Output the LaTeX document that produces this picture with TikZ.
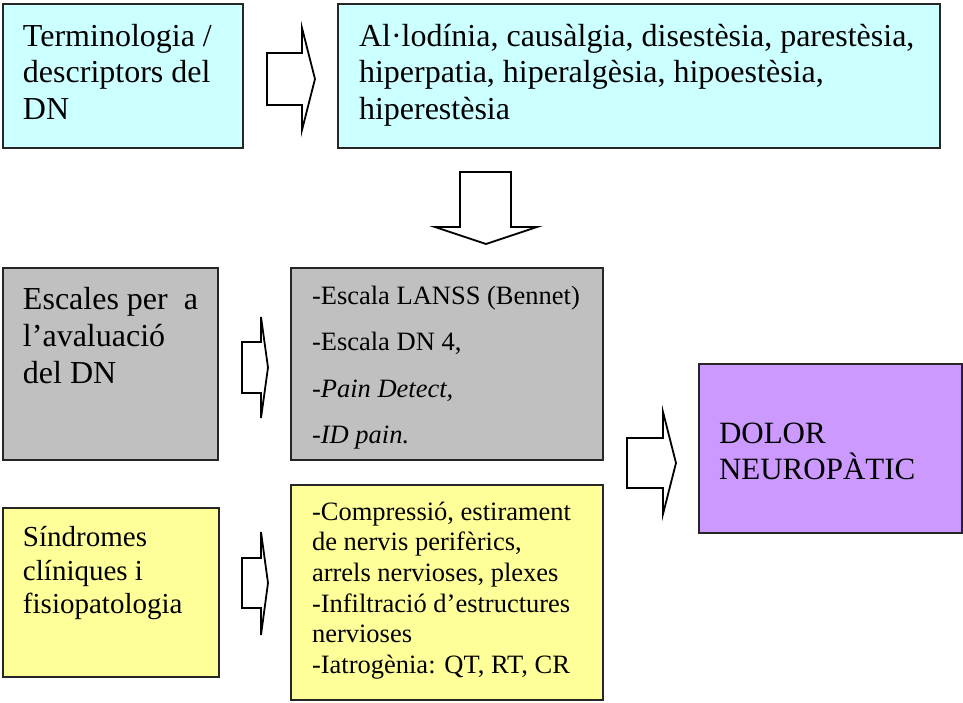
\documentclass[tikz,border=0pt]{standalone}
\usepackage{fontspec}
\setmainfont{Liberation Serif}
\definecolor{cyanbox}{HTML}{CCFFFF}
\definecolor{graybox}{HTML}{C0C0C0}
\definecolor{yellowbox}{HTML}{FFFF99}
\definecolor{purplebox}{HTML}{CC99FF}
\begin{document}
\begin{tikzpicture}[x=1pt,y=-1pt,
  box/.style={draw=black!85,line width=1.8pt},
  blockarrow/.style={draw=black,fill=white,line width=1.8pt,line join=miter},
  txt/.style={anchor=base west,inner sep=0pt,outer sep=0pt},
  big/.style={txt,font=\fontsize{32}{36}\selectfont},
  mid/.style={txt,font=\fontsize{29}{34}\selectfont},
  small/.style={txt,font=\fontsize{26.5}{30}\selectfont},
  dolor/.style={txt,font=\fontsize{31}{36}\selectfont}]
\useasboundingbox (0,0) rectangle (963,702);
% boxes
\draw[box,fill=cyanbox] (3,4) rectangle (243,148) coordinate (t1se);
\draw[box,fill=cyanbox] (338,4) rectangle (940,148);
\draw[box,fill=graybox] (3,268) rectangle (218,460);
\draw[box,fill=graybox] (291,268) rectangle (603,460);
\draw[box,fill=yellowbox] (3,508) rectangle (219,677);
\draw[box,fill=yellowbox] (291,485) rectangle (603,700);
\draw[box,fill=purplebox] (699,364) rectangle (962,533);
% block arrows
\draw[blockarrow] (267,53) -- (302,53) -- (302,28) -- (315,79) -- (302,130) -- (302,105) -- (267,105) -- cycle;
\draw[blockarrow] (460,172) -- (511,172) -- (511,227) -- (537,227) -- (486,244) -- (435,227) -- (460,227) -- cycle;
\draw[blockarrow] (242,342) -- (261,342) -- (261,317) -- (268,367.5) -- (261,418) -- (261,393) -- (242,393) -- cycle;
\draw[blockarrow] (242,558) -- (261,558) -- (261,532) -- (268,583) -- (261,635) -- (261,608) -- (242,608) -- cycle;
\draw[blockarrow] (627,438) -- (663,438) -- (663,412) -- (676,463) -- (663,514) -- (663,488) -- (627,488) -- cycle;
% texts
\node[big] (a1) at (23,46) {Terminologia /};
\node[big] (a2) at (23,82.5) {descriptors del};
\node[big] (a3) at (23,119) {DN};
\node[big] (b1) at (359,46) {Al·lodínia, causàlgia, disestèsia, parestèsia,};
\node[big] (b2) at (359,82.5) {hiperpatia, hiperalgèsia, hipoestèsia,};
\node[big] (b3) at (359,119) {hiperestèsia};
\node[big] (c1) at (23,309) {Escales per\ \ a};
\node[big] (c2) at (23,346) {l’avaluació};
\node[big] (c3) at (23,383) {del DN};
\node[small] (d1) at (312,304) {-Escala LANSS (Bennet)};
\node[small] (d2) at (312,350) {-Escala DN 4,};
\node[small] (d3) at (312,397) {\itshape -Pain Detect,};
\node[small] (d4) at (312,443) {\itshape -ID pain.};
\node[mid] (e1) at (23,546) {Síndromes};
\node[mid] (e2) at (23,580) {clíniques i};
\node[mid] (e3) at (23,613) {fisiopatologia};
\node[small] (f1) at (312,520) {-Compressió, estirament};
\node[small] (f2) at (312,550.5) {de nervis perifèrics,};
\node[small] (f3) at (312,581) {arrels nervioses, plexes};
\node[small] (f4) at (312,612) {-Infiltració d’estructures};
\node[small] (f5) at (312,642.5) {nervioses};
\node[small] (f6) at (312,673) {-Iatrogènia: QT, RT, CR};
\node[dolor] (g1) at (719,443) {DOLOR};
\node[dolor] (g2) at (719,479) {NEUROPÀTIC};
\end{tikzpicture}
\end{document}
